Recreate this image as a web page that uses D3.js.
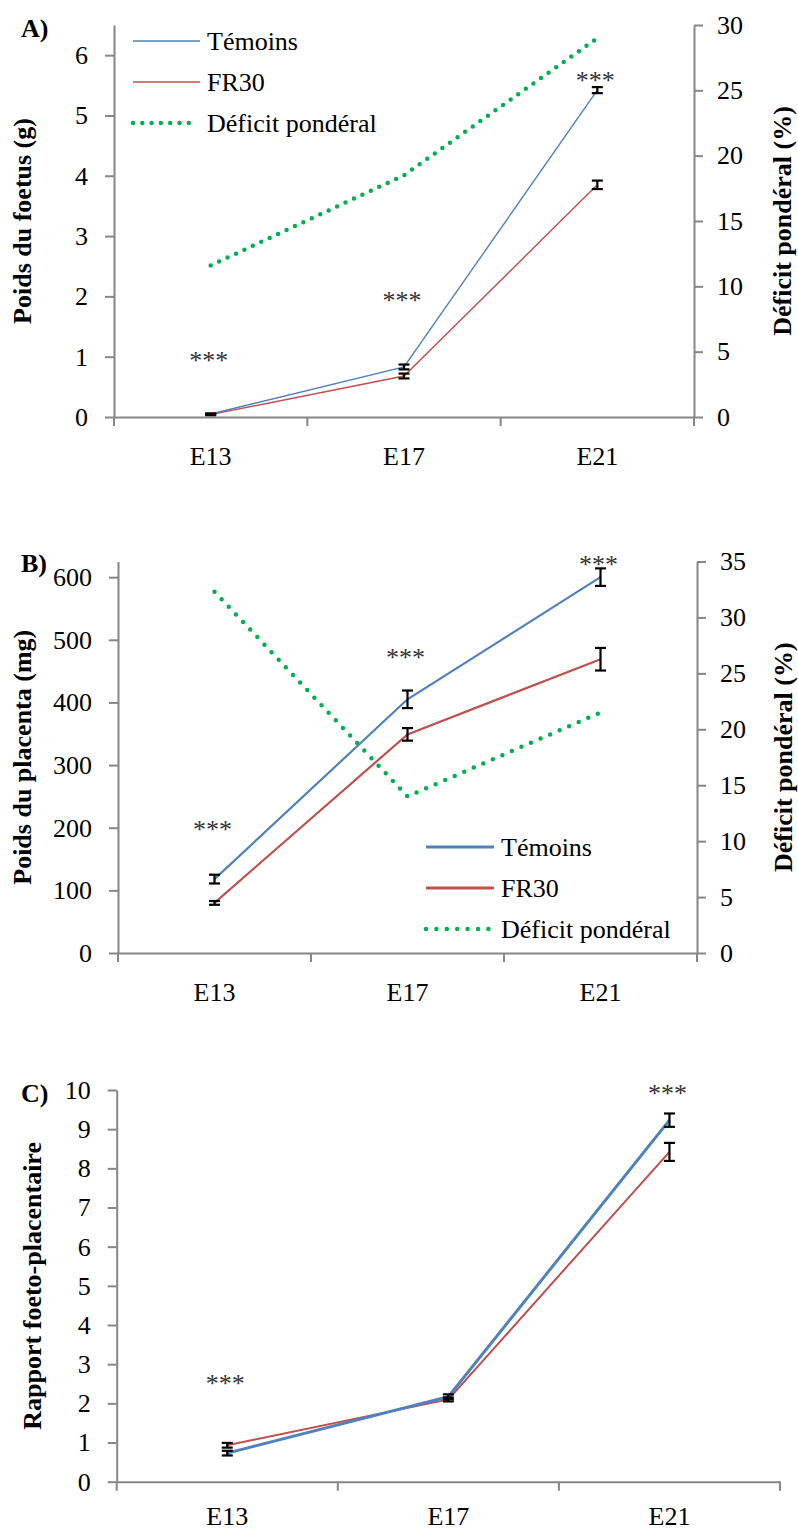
<!DOCTYPE html>
<html>
<head>
<meta charset="utf-8">
<script src="https://cdn.jsdelivr.net/npm/d3@7"></script>
<style>
  body { margin: 0; background: #fff; }
  text { font-family: "Liberation Serif", "Times New Roman", serif; }
</style>
</head>
<body>
<svg id="chart" width="798" height="1532"></svg>
<script>
// categories (gestational day)
const categories = ["E13", "E17", "E21"];

// A) foetal weight (g) + weight deficit (%)
const fetusTemoins = [0.05, 0.83, 5.42];
const fetusTemoinsErr = [0.01, 0.04, 0.05];
const fetusFR30 = [0.04, 0.68, 3.85];
const fetusFR30Err = [0.01, 0.04, 0.07];
const fetusDeficit = [11.6, 18.5, 29.0];
const fetusStars = [1.0, 2.0, 5.65];
const fetusTicksL = [0, 1, 2, 3, 4, 5, 6];
const fetusTicksR = [0, 5, 10, 15, 20, 25, 30];

// B) placental weight (mg) + weight deficit (%)
const placentaTemoins = [118, 405, 600];
const placentaTemoinsErr = [7, 14, 14];
const placentaFR30 = [80, 349, 469];
const placentaFR30Err = [3, 10, 18];
const placentaDeficit = [32.3, 14.0, 21.5];
const placentaStars = [204, 478, 626];
const placentaTicksL = [0, 100, 200, 300, 400, 500, 600];
const placentaTicksR = [0, 5, 10, 15, 20, 25, 30, 35];

// C) foeto-placental ratio
const ratioTemoins = [0.73, 2.17, 9.23];
const ratioTemoinsErr = [0.06, 0.06, 0.17];
const ratioFR30 = [0.93, 2.10, 8.42];
const ratioFR30Err = [0.06, 0.05, 0.23];
const ratioStars = [2.6, null, 10.0];
const ratioTicksL = [0, 1, 2, 3, 4, 5, 6, 7, 8, 9, 10];

const seriesNames = ["Témoins", "FR30", "Déficit pondéral"];

const blue = "#4f81bd", red = "#c0504d", green = "#00b050", grey = "#868686";
const serif = "'Liberation Serif', 'Times New Roman', serif";

const svg = d3.select("#chart").attr("font-family", serif);

function drawPanel(p) {
    const g = svg.append("g");

    const x = d3.scaleBand().domain(categories).range([p.x0, p.x1]);
    const cx = i => x(categories[i]) + x.bandwidth() / 2;
    const yL = d3.scaleLinear().domain(p.leftDomain).range([p.yBot, p.yTop]);
    const yR = p.rightDomain ? d3.scaleLinear().domain(p.rightDomain).range([p.yBot, p.yTop]) : null;

    // left axis
    g.append("g")
        .attr("transform", `translate(${p.x0},0)`)
        .call(d3.axisLeft(yL).tickValues(p.leftTicks).tickFormat(d3.format("d"))
            .tickSize(9).tickSizeOuter(0).tickPadding(17))
        .attr("font-size", 26).attr("font-family", serif);

    // right axis
    if (yR) {
        g.append("g")
            .attr("transform", `translate(${p.x1},0)`)
            .call(d3.axisRight(yR).tickValues(p.rightTicks).tickFormat(d3.format("d"))
                .tickSize(9).tickSizeOuter(0).tickPadding(14))
            .attr("font-size", 26).attr("font-family", serif);
    }

    // x axis, labels centred, ticks between categories
    const xa = g.append("g")
        .attr("transform", `translate(0,${p.yBot})`)
        .call(d3.axisBottom(x).tickSize(0).tickSizeOuter(0).tickPadding(p.xPad))
        .attr("font-size", 26).attr("font-family", serif);
    xa.selectAll(".sep")
        .data(categories.map(c => x(c)).concat([p.x1]))
        .join("line")
        .attr("class", "sep")
        .attr("x1", d => d).attr("x2", d => d)
        .attr("y1", 0).attr("y2", 9);

    g.selectAll("path.domain, .tick line, line.sep")
        .attr("stroke", grey).attr("stroke-width", 2);
    g.selectAll(".tick text").attr("fill", "#000");

    // deficit (dotted, right axis)
    if (p.deficit) {
        g.append("path")
            .datum(p.deficit)
            .attr("d", d3.line().x((d, i) => cx(i)).y(d => yR(d)))
            .attr("fill", "none")
            .attr("stroke", green)
            .attr("stroke-width", 4.5)
            .attr("stroke-linecap", "round")
            .attr("stroke-dasharray", "0 " + p.dotGap);
    }

    // series lines
    const line = d3.line().x((d, i) => cx(i)).y(d => yL(d));
    [[p.fr30, red, p.wRed], [p.temoins, blue, p.wBlue]].forEach(s => {
        g.append("path")
            .datum(s[0])
            .attr("d", line)
            .attr("fill", "none")
            .attr("stroke", s[1])
            .attr("stroke-width", s[2]);
    });

    // error bars
    [[p.temoins, p.temoinsErr], [p.fr30, p.fr30Err]].forEach(s => {
        s[0].forEach((v, i) => {
            const e = s[1][i];
            const eb = g.append("g").attr("stroke", "#000").attr("stroke-width", 2.2);
            eb.append("line").attr("x1", cx(i)).attr("x2", cx(i)).attr("y1", yL(v - e)).attr("y2", yL(v + e));
            eb.append("line").attr("x1", cx(i) - 5.5).attr("x2", cx(i) + 5.5).attr("y1", yL(v - e)).attr("y2", yL(v - e));
            eb.append("line").attr("x1", cx(i) - 5.5).attr("x2", cx(i) + 5.5).attr("y1", yL(v + e)).attr("y2", yL(v + e));
        });
    });

    // significance stars
    p.stars.forEach((v, i) => {
        if (v == null) return;
        g.append("text")
            .attr("x", cx(i) - 2).attr("y", yL(v))
            .attr("dy", "0.48em")
            .attr("text-anchor", "middle")
            .attr("font-size", 26)
            .attr("fill", "#333")
            .text("***");
    });

    // axis titles
    g.append("text")
        .attr("transform", `translate(${p.titleLX},${(p.yTop + p.yBot) / 2}) rotate(-90)`)
        .attr("text-anchor", "middle")
        .attr("dominant-baseline", "central")
        .attr("font-size", 26).attr("font-weight", "bold")
        .text(p.titleL);
    if (p.titleR) {
        g.append("text")
            .attr("transform", `translate(${p.titleRX},${(p.yTop + p.yBot) / 2}) rotate(-90)`)
            .attr("text-anchor", "middle")
            .attr("dominant-baseline", "central")
            .attr("font-size", 26).attr("font-weight", "bold")
            .text(p.titleR);
    }

    // panel letter
    g.append("text")
        .attr("x", 21).attr("y", p.letterY)
        .attr("font-size", 26).attr("font-weight", "bold")
        .text(p.letter);

    // legend
    if (p.legend) {
        const styles = [[blue, p.wBlueLeg, null], [red, p.wRedLeg, null], [green, 4.5, "0 " + p.dotGap]];
        seriesNames.forEach((name, i) => {
            const ly = p.legend.y[i];
            const l = g.append("line")
                .attr("x1", p.legend.x1).attr("x2", styles[i][2] ? p.legend.x2 - 5 : p.legend.x2)
                .attr("y1", ly).attr("y2", ly)
                .attr("stroke", styles[i][0])
                .attr("stroke-width", styles[i][1]);
            if (styles[i][2]) l.attr("stroke-dasharray", styles[i][2]).attr("stroke-linecap", "round");
            g.append("text")
                .attr("x", p.legend.tx).attr("y", ly)
                .attr("dy", "0.34em")
                .attr("font-size", 26)
                .text(name);
        });
    }
}

drawPanel({
    letter: "A)", letterY: 37,
    x0: 114, x1: 694, yTop: 25, yBot: 417, xPad: 30,
    leftDomain: [0, 6.5], leftTicks: fetusTicksL,
    rightDomain: [0, 30], rightTicks: fetusTicksR,
    temoins: fetusTemoins, temoinsErr: fetusTemoinsErr,
    fr30: fetusFR30, fr30Err: fetusFR30Err,
    deficit: fetusDeficit, dotGap: 9.3,
    stars: fetusStars,
    wBlue: 1.4, wRed: 1.4, wBlueLeg: 1.4, wRedLeg: 1.4,
    titleL: "Poids du foetus (g)", titleLX: 22,
    titleR: "Déficit pondéral (%)", titleRX: 782,
    legend: { x1: 133, x2: 200, tx: 207, y: [41, 82, 123] }
});

drawPanel({
    letter: "B)", letterY: 572,
    x0: 118, x1: 697, yTop: 561.5, yBot: 953, xPad: 30,
    leftDomain: [0, 625], leftTicks: placentaTicksL,
    rightDomain: [0, 35], rightTicks: placentaTicksR,
    temoins: placentaTemoins, temoinsErr: placentaTemoinsErr,
    fr30: placentaFR30, fr30Err: placentaFR30Err,
    deficit: placentaDeficit, dotGap: 10.4,
    stars: placentaStars,
    wBlue: 2.2, wRed: 2.2, wBlueLeg: 3, wRedLeg: 3,
    titleL: "Poids du placenta (mg)", titleLX: 22,
    titleR: "Déficit pondéral (%)", titleRX: 783,
    legend: { x1: 426, x2: 494, tx: 501, y: [847, 888, 929] }
});

drawPanel({
    letter: "C)", letterY: 1102,
    x0: 116.7, x1: 780, yTop: 1090, yBot: 1481.7, xPad: 25,
    leftDomain: [0, 10], leftTicks: ratioTicksL,
    temoins: ratioTemoins, temoinsErr: ratioTemoinsErr,
    fr30: ratioFR30, fr30Err: ratioFR30Err,
    stars: ratioStars,
    wBlue: 3, wRed: 2,
    titleL: "Rapport foeto-placentaire", titleLX: 32
});
</script>
</body>
</html>
